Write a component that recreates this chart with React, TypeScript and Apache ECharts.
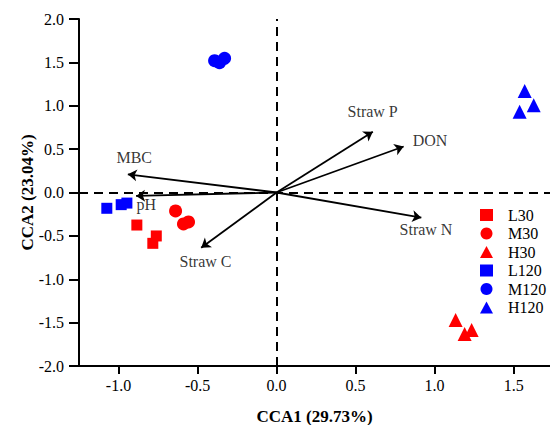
import React, { useEffect, useRef } from "react";
import * as echarts from "echarts";

const xTicks = [-1.0, -0.5, 0.0, 0.5, 1.0, 1.5];

const L30 = [[-0.884, -0.375], [-0.761, -0.501], [-0.783, -0.586]];
const M30 = [[-0.639, -0.213], [-0.589, -0.363], [-0.557, -0.34]];
const H30 = [[1.133, -1.47], [1.19, -1.63], [1.234, -1.585]];
const L120 = [[-1.074, -0.182], [-0.983, -0.14], [-0.947, -0.122]];
const M120 = [[-0.392, 1.519], [-0.361, 1.496], [-0.329, 1.547]];
const H120 = [[1.57, 1.17], [1.627, 1.005], [1.538, 0.93]];

const legendNames = ["L30", "M30", "H30", "L120", "M120", "H120"];
const legendIcons = ["rect", "circle", "triangle", "rect", "circle", "triangle"];

const vectorNames = ["Straw P", "DON", "MBC", "pH", "Straw N", "Straw C"];
const vectorEnds = [[0.609, 0.701], [0.804, 0.53], [-0.941, 0.21], [-0.889, -0.04], [0.916, -0.29], [-0.477, -0.636]];
const vectorLabelPos = [[0.449, 0.928], [0.861, 0.6], [-1.013, 0.398], [-0.886, -0.133], [0.778, -0.421], [-0.614, -0.801]];

const FONT = "'Liberation Serif', 'Times New Roman', serif";

export default function App() {
  const ref = useRef<HTMLDivElement>(null);
  useEffect(() => {
    const chart = echarts.init(ref.current!, null, { renderer: "svg" });
    const scatter = (name: string, data: number[][], symbol: string, size: number, color: string) => ({
      name,
      type: "scatter",
      data,
      symbol,
      symbolSize: size,
      itemStyle: { color, opacity: 1 },
      z: 5,
    });
    chart.setOption({
      animation: false,
      backgroundColor: "#ffffff",
      grid: { left: 79, right: 0, top: 19, bottom: 59, containLabel: false, outerBoundsMode: "none" },
      xAxis: {
        type: "value",
        min: -1.25,
        max: 1.73,
        name: "CCA1 (29.73%)",
        nameLocation: "middle",
        nameGap: 42,
        nameMoveOverlap: false,
        nameTextStyle: { fontFamily: FONT, fontSize: 17, fontWeight: "bold", color: "#000" },
        splitLine: { show: false },
        axisLine: { onZero: false, lineStyle: { color: "#000", width: 2 } },
        axisTick: { show: true, inside: false, length: 8, lineStyle: { color: "#000", width: 2 }, customValues: xTicks },
        axisLabel: {
          margin: 11,
          fontFamily: FONT,
          fontSize: 16,
          color: "#000",
          customValues: xTicks,
          formatter: (v: number) => v.toFixed(1),
        },
      },
      yAxis: {
        type: "value",
        min: -2,
        max: 2,
        interval: 0.5,
        name: "CCA2 (23.04%)",
        nameLocation: "middle",
        nameGap: 43,
        nameMoveOverlap: false,
        nameTextStyle: { fontFamily: FONT, fontSize: 17, fontWeight: "bold", color: "#000" },
        splitLine: { show: false },
        axisLine: { onZero: false, lineStyle: { color: "#000", width: 2 } },
        axisTick: { show: true, inside: false, length: 10, lineStyle: { color: "#000", width: 2 } },
        axisLabel: {
          margin: 15,
          fontFamily: FONT,
          fontSize: 16,
          color: "#000",
          formatter: (v: number) => v.toFixed(1),
        },
      },
      legend: {
        orient: "vertical",
        left: 480,
        top: 207,
        padding: 0,
        itemWidth: 13,
        itemHeight: 12,
        itemGap: 2.5,
        textStyle: { fontFamily: FONT, fontSize: 16, lineHeight: 16, color: "#000", padding: [0, 0, 0, 10] },
        data: legendNames.map((n, i) => ({ name: n, icon: legendIcons[i] })),
      },
      series: [
        {
          type: "line",
          data: [],
          silent: true,
          markLine: {
            silent: true,
            symbol: "none",
            label: { show: false },
            lineStyle: { color: "#000", width: 2, type: [9, 6] },
            data: [{ xAxis: 0 }, { yAxis: 0 }],
          },
          z: 1,
        },
        {
          type: "lines",
          coordinateSystem: "cartesian2d",
          symbol: ["none", "arrow"],
          symbolSize: 9,
          lineStyle: { color: "#000", width: 1.8, opacity: 1 },
          data: vectorEnds.map((e) => ({ coords: [[0, 0], e] })),
          z: 3,
        },
        {
          type: "scatter",
          symbolSize: 0,
          silent: true,
          data: vectorLabelPos.map((p, i) => ({ value: p, name: vectorNames[i] })),
          label: {
            show: true,
            position: "right",
            distance: 0,
            formatter: (p: any) => p.name,
            fontFamily: FONT,
            fontSize: 16,
            color: "#000",
          },
          z: 4,
        },
        scatter("L30", L30, "rect", 11, "#ff0000"),
        scatter("M30", M30, "circle", 13, "#ff0000"),
        scatter("H30", H30, "triangle", 14, "#ff0000"),
        scatter("L120", L120, "rect", 11, "#0000ff"),
        scatter("M120", M120, "circle", 13, "#0000ff"),
        scatter("H120", H120, "triangle", 14, "#0000ff"),
      ],
    });
    return () => chart.dispose();
  }, []);
  return <div ref={ref} style={{ width: 550, height: 425, position: "absolute", left: 0, top: 0 }} />;
}
